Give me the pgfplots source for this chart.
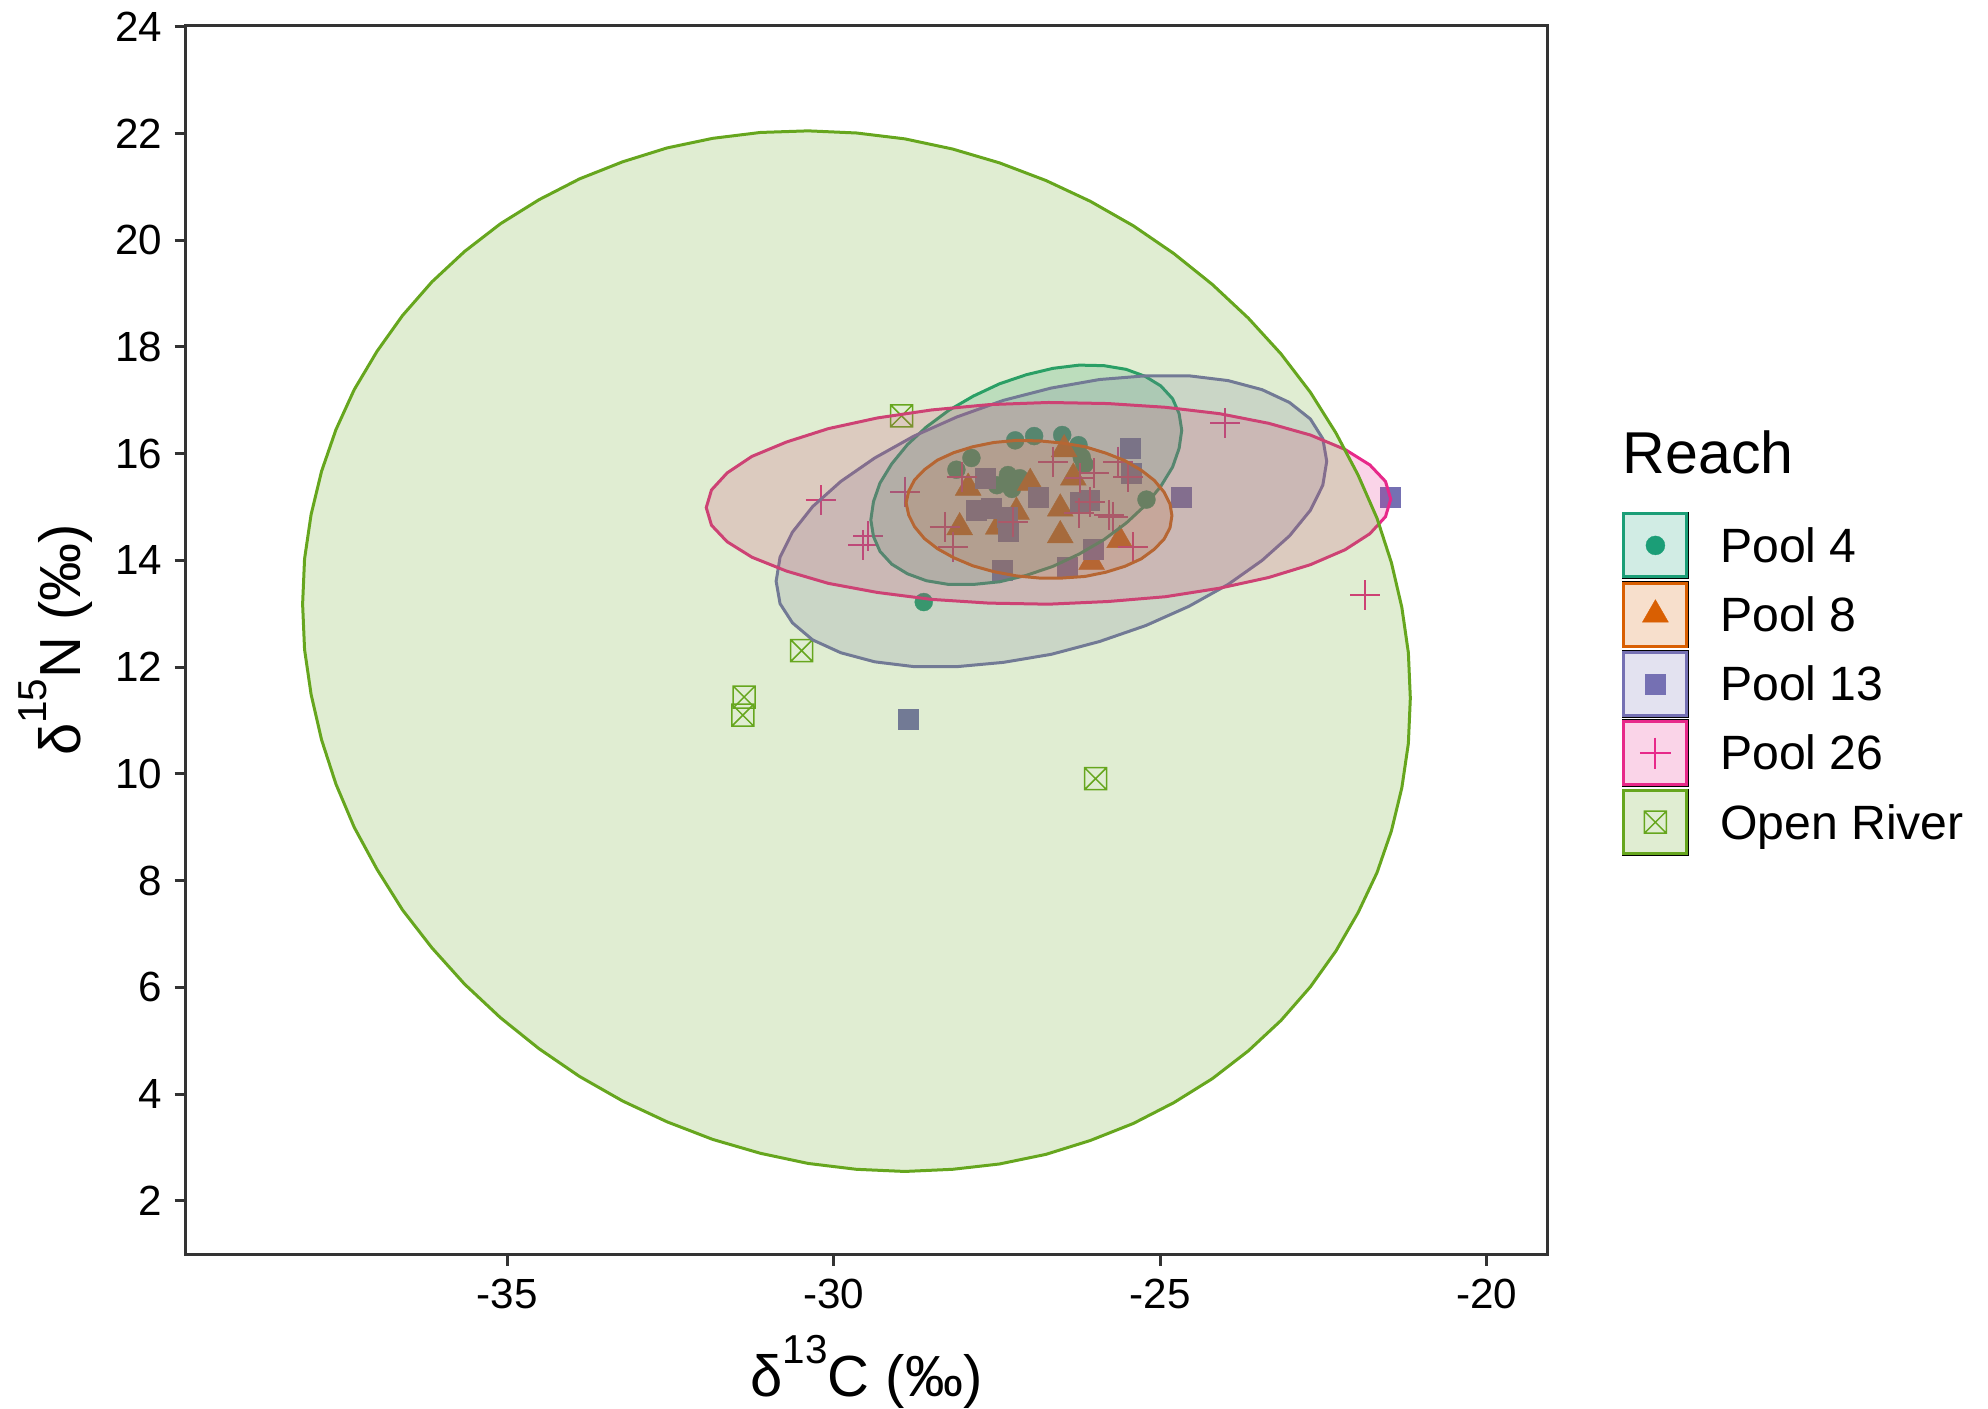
\documentclass[border=0pt]{standalone}
\usepackage{pgfplots}
\pgfplotsset{compat=1.18}
\usepackage{fontspec}
\setmainfont{Liberation Sans}

% Dark2 palette, one colour per reach
\definecolor{cPfour}{HTML}{1B9E77}
\definecolor{cPeight}{HTML}{D95F02}
\definecolor{cPthirteen}{HTML}{7570B3}
\definecolor{cPtwentysix}{HTML}{E7298A}
\definecolor{cOpen}{HTML}{66A61E}
\definecolor{grey20}{HTML}{333333}

% square with a cross inside
\pgfdeclareplotmark{boxx}{%
  \pgfpathrectangle{\pgfpoint{-\pgfplotmarksize}{-\pgfplotmarksize}}{\pgfpoint{2\pgfplotmarksize}{2\pgfplotmarksize}}%
  \pgfpathmoveto{\pgfpoint{-\pgfplotmarksize}{-\pgfplotmarksize}}%
  \pgfpathlineto{\pgfpoint{\pgfplotmarksize}{\pgfplotmarksize}}%
  \pgfpathmoveto{\pgfpoint{-\pgfplotmarksize}{\pgfplotmarksize}}%
  \pgfpathlineto{\pgfpoint{\pgfplotmarksize}{-\pgfplotmarksize}}%
  \pgfusepathqstroke}

% legend key: tinted square with the group's symbol in the middle
\newcommand{\reachkey}[4]{%
  \path (0mm,-3.3mm) rectangle (6.6mm,3.3mm);
  \draw[draw=#1, fill=#1, fill opacity=0.2, line width=0.3mm] (0.15mm,-3.15mm) rectangle (6.45mm,3.15mm);
  \draw[draw=#1, fill=#1, line width=#4, mark=#2, mark size=#3] plot coordinates {(3.3mm,0mm)};
}
\newcommand{\keytext}[1]{\raisebox{-0.4mm}{#1}}

\begin{document}
\begin{tikzpicture}
\useasboundingbox (0,0) rectangle (198.8mm,140.8mm);
\begin{axis}[
  at={(18.57mm,15.33mm)}, anchor=south west,
  width=136.18mm, height=122.95mm, scale only axis,
  xmin=-39.92, xmax=-19.07, ymin=0.99, ymax=24.03,
  clip marker paths=true,
  xtick={-35,-30,-25,-20}, xticklabels={-35,-30,-25,-20},
  ytick={2,4,6,8,10,12,14,16,18,20,22,24},
  yticklabels={2,4,6,8,10,12,14,16,18,20,22,24},
  tick pos=left, tick align=outside, major tick length=1.1mm,
  tick style={grey20, line width=0.3mm},
  axis line style={grey20, line width=0.3mm},
  xticklabel style={font=\fontsize{12}{14}\selectfont, inner sep=0pt, anchor=north, yshift=-1.25mm},
  yticklabel style={font=\fontsize{12}{14}\selectfont, inner sep=0pt, anchor=east, xshift=-1.2mm},
  xlabel={δ\raisebox{9.5pt}{\fontsize{11.5}{12}\selectfont 13}C (‰)},
  ylabel={δ\raisebox{9.5pt}{\fontsize{11.5}{12}\selectfont 15}N (‰)},
  xlabel style={at={(axis description cs:0.5,-0.1157)}, anchor=base, inner sep=0pt, font=\fontsize{16.5}{18}\selectfont},
  ylabel style={at={(axis description cs:-0.0776,0.5)}, anchor=base, inner sep=0pt, font=\fontsize{16.5}{18}\selectfont},
  legend style={at={(axis description cs:1.0545,0.6043)}, anchor=north west,
    draw=none, fill=none, inner sep=0pt, outer sep=0pt, row sep=0.18mm,
    font=\fontsize{13.7}{16}\selectfont, nodes={inner sep=0pt},
    /tikz/every odd column/.append style={column sep=3.1mm}},
  legend cell align=left,
]

% ---- samples ----
% Pool 4
\addplot[only marks, forget plot, mark=*, color=cPfour, mark size=0.9mm, mark options={line width=0.1pt}] coordinates {
(-28.62,13.22) (-25.21,15.14) (-27.22,16.25) (-26.93,16.33) (-26.50,16.35)
(-26.25,16.16) (-26.20,15.93) (-26.16,15.80) (-27.89,15.92) (-28.12,15.70)
(-27.33,15.60) (-27.15,15.54) (-27.50,15.41) (-27.27,15.34)
};
% Pool 8
\addplot[only marks, forget plot, mark=triangle*, color=cPeight, mark size=1.5mm, mark options={line width=0.1pt}] coordinates {
(-26.47,16.08) (-27.94,15.36) (-26.99,15.45) (-26.33,15.55) (-26.53,14.97)
(-27.20,14.91) (-28.07,14.62) (-27.48,14.63) (-26.53,14.47) (-25.62,14.38)
(-26.05,13.97)
};
% Pool 13
\addplot[only marks, forget plot, mark=square*, color=cPthirteen, mark size=1.0mm, mark options={line width=0.1pt}] coordinates {
(-25.46,16.10) (-25.44,15.63) (-27.68,15.54) (-26.87,15.19) (-27.81,14.94)
(-27.58,14.97) (-27.35,14.82) (-27.33,14.54) (-26.23,15.10) (-26.08,15.13)
(-26.02,14.22) (-27.42,13.82) (-26.43,13.88) (-24.68,15.19) (-21.48,15.19)
(-28.86,11.03)
};
% Pool 26
\addplot[only marks, forget plot, mark=+, color=cPtwentysix, mark size=1.5mm, line width=0.2mm] coordinates {
(-30.20,15.13) (-28.91,15.29) (-29.47,14.45) (-29.55,14.28) (-26.64,15.85)
(-28.04,15.57) (-28.30,14.63) (-28.17,14.25) (-27.25,14.72) (-26.23,15.54)
(-26.02,15.63) (-25.64,15.85) (-25.49,15.57) (-26.25,14.88) (-26.08,15.10)
(-25.79,14.85) (-25.72,14.82) (-25.41,14.25) (-24.00,16.57) (-21.86,13.35)
};
% Open River
\addplot[only marks, forget plot, mark=boxx, color=cOpen, mark size=1.1mm, line width=0.15mm] coordinates {
(-28.96,16.71) (-30.49,12.31) (-31.37,11.44) (-31.39,11.10) (-25.99,9.91)
};

% ---- 95% ellipses ----
\addplot[forget plot, draw=cPfour, fill=cPfour, fill opacity=0.2, line width=0.3mm] coordinates {
(-24.67,16.44) (-24.71,16.75) (-24.81,17.03) (-24.99,17.27) (-25.23,17.45) (-25.52,17.58)
(-25.86,17.65) (-26.24,17.66) (-26.64,17.60) (-27.05,17.48) (-27.46,17.31) (-27.86,17.08)
(-28.24,16.81) (-28.58,16.50) (-28.87,16.17) (-29.11,15.81) (-29.29,15.45) (-29.39,15.10)
(-29.43,14.76) (-29.39,14.45) (-29.29,14.17) (-29.11,13.93) (-28.87,13.75) (-28.58,13.62)
(-28.24,13.55) (-27.86,13.55) (-27.46,13.60) (-27.05,13.72) (-26.64,13.89) (-26.24,14.12)
(-25.86,14.39) (-25.52,14.70) (-25.23,15.03) (-24.99,15.39) (-24.81,15.75) (-24.71,16.10)
} -- cycle;
\addplot[forget plot, draw=cPeight, fill=cPeight, fill opacity=0.2, line width=0.3mm] coordinates {
(-24.82,14.84) (-24.85,15.06) (-24.94,15.28) (-25.09,15.50) (-25.29,15.69) (-25.54,15.87)
(-25.83,16.01) (-26.15,16.13) (-26.50,16.20) (-26.85,16.24) (-27.20,16.25) (-27.55,16.21)
(-27.87,16.13) (-28.16,16.02) (-28.41,15.88) (-28.61,15.70) (-28.76,15.51) (-28.85,15.30)
(-28.89,15.08) (-28.85,14.85) (-28.76,14.63) (-28.61,14.41) (-28.41,14.22) (-28.16,14.05)
(-27.87,13.90) (-27.55,13.79) (-27.20,13.71) (-26.85,13.67) (-26.50,13.67) (-26.15,13.70)
(-25.83,13.78) (-25.54,13.89) (-25.29,14.03) (-25.09,14.21) (-24.94,14.40) (-24.85,14.61)
} -- cycle;
\addplot[forget plot, draw=cPthirteen, fill=cPthirteen, fill opacity=0.2, line width=0.3mm] coordinates {
(-22.45,15.86) (-22.51,16.28) (-22.70,16.65) (-23.02,16.96) (-23.44,17.20) (-23.96,17.37)
(-24.56,17.46) (-25.22,17.46) (-25.93,17.39) (-26.67,17.23) (-27.40,17.00) (-28.11,16.69)
(-28.77,16.33) (-29.37,15.92) (-29.89,15.48) (-30.32,15.01) (-30.63,14.53) (-30.82,14.06)
(-30.88,13.61) (-30.82,13.19) (-30.63,12.83) (-30.32,12.51) (-29.89,12.27) (-29.37,12.10)
(-28.77,12.01) (-28.11,12.01) (-27.40,12.09) (-26.67,12.24) (-25.93,12.48) (-25.22,12.78)
(-24.56,13.14) (-23.96,13.55) (-23.44,14.00) (-23.02,14.46) (-22.70,14.94) (-22.51,15.41)
} -- cycle;
\addplot[forget plot, draw=cPtwentysix, fill=cPtwentysix, fill opacity=0.2, line width=0.3mm] coordinates {
(-21.47,15.15) (-21.55,15.48) (-21.79,15.79) (-22.17,16.08) (-22.70,16.35) (-23.34,16.57)
(-24.09,16.75) (-24.92,16.87) (-25.80,16.94) (-26.71,16.96) (-27.62,16.92) (-28.50,16.82)
(-29.33,16.67) (-30.08,16.47) (-30.72,16.22) (-31.25,15.95) (-31.63,15.64) (-31.87,15.32)
(-31.95,14.99) (-31.87,14.66) (-31.63,14.35) (-31.25,14.06) (-30.72,13.80) (-30.08,13.57)
(-29.33,13.40) (-28.50,13.27) (-27.62,13.20) (-26.71,13.18) (-25.80,13.23) (-24.92,13.32)
(-24.09,13.48) (-23.34,13.68) (-22.70,13.92) (-22.17,14.20) (-21.79,14.50) (-21.55,14.82)
} -- cycle;
\addplot[forget plot, draw=cOpen, fill=cOpen, fill opacity=0.2, line width=0.3mm] coordinates {
(-21.17,11.42) (-21.20,12.27) (-21.30,13.12) (-21.46,13.96) (-21.68,14.79) (-21.97,15.60)
(-22.31,16.39) (-22.70,17.15) (-23.15,17.87) (-23.65,18.54) (-24.20,19.17) (-24.79,19.75)
(-25.41,20.27) (-26.07,20.73) (-26.75,21.12) (-27.46,21.45) (-28.18,21.71) (-28.91,21.90)
(-29.65,22.01) (-30.39,22.05) (-31.12,22.02) (-31.85,21.91) (-32.55,21.73) (-33.23,21.47)
(-33.89,21.15) (-34.51,20.76) (-35.10,20.31) (-35.65,19.79) (-36.15,19.22) (-36.60,18.59)
(-36.99,17.92) (-37.34,17.20) (-37.62,16.45) (-37.84,15.67) (-38.00,14.86) (-38.10,14.03)
(-38.13,13.18) (-38.10,12.33) (-38.00,11.49) (-37.84,10.64) (-37.62,9.81) (-37.34,9.00)
(-36.99,8.21) (-36.60,7.45) (-36.15,6.74) (-35.65,6.06) (-35.10,5.43) (-34.51,4.85)
(-33.89,4.33) (-33.23,3.87) (-32.55,3.48) (-31.85,3.15) (-31.12,2.89) (-30.39,2.70)
(-29.65,2.59) (-28.91,2.55) (-28.18,2.59) (-27.46,2.69) (-26.75,2.87) (-26.07,3.13)
(-25.41,3.45) (-24.79,3.84) (-24.20,4.29) (-23.65,4.81) (-23.15,5.38) (-22.70,6.01)
(-22.31,6.68) (-21.97,7.40) (-21.68,8.15) (-21.46,8.93) (-21.30,9.74) (-21.20,10.57)
} -- cycle;

% ---- legend ----
\addlegendimage{legend image code/.code={\reachkey{cPfour}{*}{0.95mm}{0.1pt}}}
\addlegendentry{\keytext{Pool 4}}
\addlegendimage{legend image code/.code={\reachkey{cPeight}{triangle*}{1.5mm}{0.1pt}}}
\addlegendentry{\keytext{Pool 8}}
\addlegendimage{legend image code/.code={\reachkey{cPthirteen}{square*}{1.0mm}{0.1pt}}}
\addlegendentry{\keytext{Pool 13}}
\addlegendimage{legend image code/.code={\reachkey{cPtwentysix}{+}{1.55mm}{0.2mm}}}
\addlegendentry{\keytext{Pool 26}}
\addlegendimage{legend image code/.code={\reachkey{cOpen}{boxx}{1.1mm}{0.15mm}}}
\addlegendentry{\keytext{Open River}}
\end{axis}
\node[anchor=base west, inner sep=0pt, font=\fontsize{16.8}{18}\selectfont] at (162.2mm,93.47mm) {Reach};
\end{tikzpicture}
\end{document}
